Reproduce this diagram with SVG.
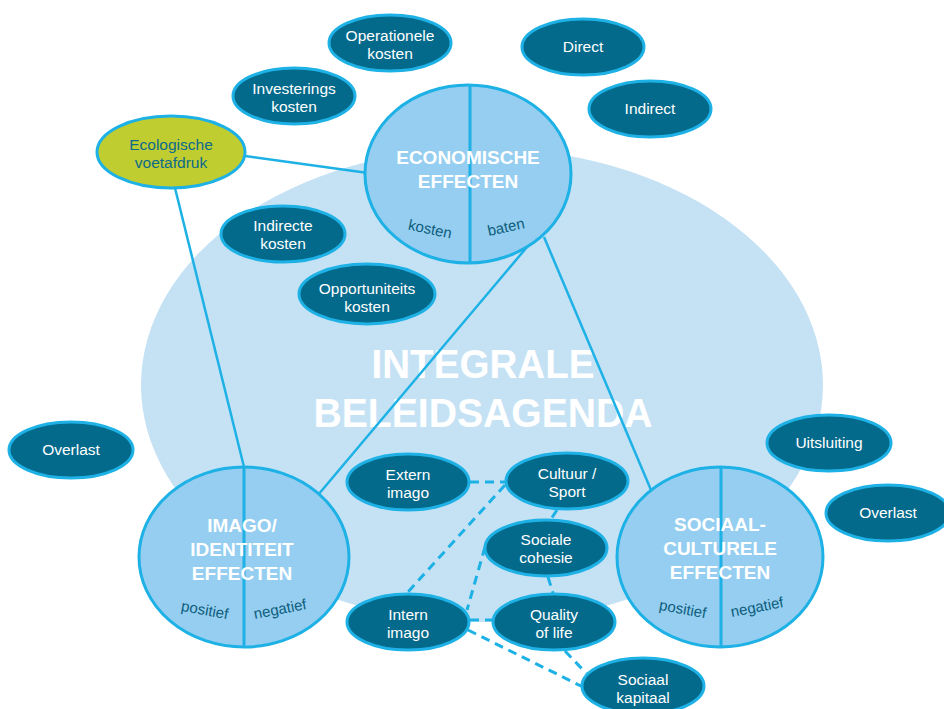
<svg xmlns="http://www.w3.org/2000/svg" width="944" height="709" viewBox="0 0 944 709">
  <style>
    .agenda { fill: #c5e2f5; }
    .circle { fill: #95cef0; stroke: #1db1e5; stroke-width: 3; }
    .divider { stroke: #1db1e5; stroke-width: 3; }
    .node { fill: #046a8b; stroke: #1db1e5; stroke-width: 3; }
    .eco { fill: #bfcd31; stroke: #1db1e5; stroke-width: 3; }
    .link { stroke: #1db1e5; stroke-width: 2.5; fill: none; }
    .dash { stroke: #1db1e5; stroke-width: 3; fill: none; stroke-dasharray: 9 6; }
    .lbl { font-family: "Liberation Sans", Arial, sans-serif; font-size: 15.5px; fill: #ffffff; text-anchor: middle; }
    .ecolbl { fill: #0c6a8a; }
    .head { font-family: "Liberation Sans", Arial, sans-serif; font-weight: bold; font-size: 19px; fill: #ffffff; text-anchor: middle; }
    .sub { font-family: "Liberation Sans", Arial, sans-serif; font-size: 15px; fill: #0d5d7d; text-anchor: middle; }
    .title { font-family: "Liberation Sans", Arial, sans-serif; font-weight: bold; font-size: 41px; fill: #ffffff; text-anchor: middle; }
  </style>

  <!-- background field -->
  <ellipse class="agenda" cx="482" cy="385" rx="341" ry="237"/>
  <text class="title" x="483" y="378" textLength="223" lengthAdjust="spacingAndGlyphs">INTEGRALE</text>
  <text class="title" x="483" y="427" textLength="339" lengthAdjust="spacingAndGlyphs">BELEIDSAGENDA</text>

  <!-- connectors -->
  <g id="connectors">
    <line class="link" x1="245" y1="156" x2="368" y2="173"/>
    <line class="link" x1="175" y1="188" x2="244" y2="467"/>
    <line class="link" x1="527" y1="247" x2="318" y2="495"/>
    <line class="link" x1="544" y1="237" x2="651" y2="490"/>
    <line class="dash" x1="470" y1="482" x2="505" y2="482"/>
    <line class="dash" x1="505" y1="485" x2="407" y2="593"/>
    <line class="dash" x1="557" y1="510" x2="551" y2="519"/>
    <line class="dash" x1="485" y1="547" x2="467" y2="610"/>
    <line class="dash" x1="548" y1="577" x2="553" y2="593"/>
    <line class="dash" x1="470" y1="620" x2="493" y2="620"/>
    <line class="dash" x1="468" y1="630" x2="583" y2="687"/>
    <line class="dash" x1="565" y1="651" x2="586" y2="673"/>
  </g>

  <!-- main effect circles -->
  <g id="economische-effecten">
    <ellipse class="circle" cx="468" cy="174" rx="103" ry="89"/>
    <line class="divider" x1="470" y1="85" x2="470" y2="263"/>
    <text class="head" x="468" y="164">ECONOMISCHE</text>
    <text class="head" x="468" y="188">EFFECTEN</text>
    <text class="sub" transform="translate(429 234) rotate(12)">kosten</text>
    <text class="sub" transform="translate(507 232) rotate(-12)">baten</text>
  </g>

  <g id="imago-identiteit-effecten">
    <ellipse class="circle" cx="244" cy="557" rx="105" ry="90"/>
    <line class="divider" x1="244" y1="467" x2="244" y2="647"/>
    <text class="head" x="242" y="532">IMAGO/</text>
    <text class="head" x="242" y="556">IDENTITEIT</text>
    <text class="head" x="242" y="580">EFFECTEN</text>
    <text class="sub" transform="translate(204 615) rotate(10)">positief</text>
    <text class="sub" transform="translate(281 614) rotate(-11)">negatief</text>
  </g>

  <g id="sociaal-culturele-effecten">
    <ellipse class="circle" cx="720" cy="557" rx="103" ry="90"/>
    <line class="divider" x1="721" y1="467" x2="721" y2="647"/>
    <text class="head" x="720" y="531">SOCIAAL-</text>
    <text class="head" x="720" y="555">CULTURELE</text>
    <text class="head" x="720" y="579">EFFECTEN</text>
    <text class="sub" transform="translate(682 614) rotate(10)">positief</text>
    <text class="sub" transform="translate(758 612) rotate(-11)">negatief</text>
  </g>

  <!-- effect nodes -->
  <g id="operationele-kosten">
    <ellipse class="node" cx="390" cy="43" rx="61" ry="28"/>
    <text class="lbl" x="390" y="41">Operationele</text>
    <text class="lbl" x="390" y="58.5">kosten</text>
  </g>
  <g id="investerings-kosten">
    <ellipse class="node" cx="294" cy="96" rx="61" ry="28"/>
    <text class="lbl" x="294" y="94">Investerings</text>
    <text class="lbl" x="294" y="111.5">kosten</text>
  </g>
  <g id="direct">
    <ellipse class="node" cx="583" cy="47" rx="61" ry="28"/>
    <text class="lbl" x="583" y="52">Direct</text>
  </g>
  <g id="indirect">
    <ellipse class="node" cx="650" cy="109" rx="61" ry="28"/>
    <text class="lbl" x="650" y="114">Indirect</text>
  </g>
  <g id="ecologische-voetafdruk">
    <ellipse class="eco" cx="171" cy="152" rx="74" ry="36"/>
    <text class="lbl ecolbl" x="171" y="150">Ecologische</text>
    <text class="lbl ecolbl" x="171" y="167.5">voetafdruk</text>
  </g>
  <g id="indirecte-kosten">
    <ellipse class="node" cx="283" cy="234" rx="62" ry="28"/>
    <text class="lbl" x="283" y="231">Indirecte</text>
    <text class="lbl" x="283" y="248.5">kosten</text>
  </g>
  <g id="opportuniteits-kosten">
    <ellipse class="node" cx="367" cy="294" rx="68" ry="30"/>
    <text class="lbl" x="367" y="294">Opportuniteits</text>
    <text class="lbl" x="367" y="311.5">kosten</text>
  </g>
  <g id="overlast-links">
    <ellipse class="node" cx="71" cy="450" rx="62" ry="28"/>
    <text class="lbl" x="71" y="455">Overlast</text>
  </g>
  <g id="uitsluiting">
    <ellipse class="node" cx="829" cy="443" rx="62" ry="28"/>
    <text class="lbl" x="829" y="448">Uitsluiting</text>
  </g>
  <g id="overlast-rechts">
    <ellipse class="node" cx="888" cy="513" rx="62" ry="28"/>
    <text class="lbl" x="888" y="518">Overlast</text>
  </g>
  <g id="extern-imago">
    <ellipse class="node" cx="408" cy="482" rx="61" ry="28"/>
    <text class="lbl" x="408" y="480">Extern</text>
    <text class="lbl" x="408" y="497.5">imago</text>
  </g>
  <g id="cultuur-sport">
    <ellipse class="node" cx="567" cy="481" rx="61" ry="28"/>
    <text class="lbl" x="567" y="479">Cultuur /</text>
    <text class="lbl" x="567" y="496.5">Sport</text>
  </g>
  <g id="sociale-cohesie">
    <ellipse class="node" cx="546" cy="548" rx="61" ry="28"/>
    <text class="lbl" x="546" y="545">Sociale</text>
    <text class="lbl" x="546" y="562.5">cohesie</text>
  </g>
  <g id="intern-imago">
    <ellipse class="node" cx="408" cy="622" rx="61" ry="28"/>
    <text class="lbl" x="408" y="620">Intern</text>
    <text class="lbl" x="408" y="637.5">imago</text>
  </g>
  <g id="quality-of-life">
    <ellipse class="node" cx="554" cy="622" rx="61" ry="28"/>
    <text class="lbl" x="554" y="620">Quality</text>
    <text class="lbl" x="554" y="637.5">of life</text>
  </g>
  <g id="sociaal-kapitaal">
    <ellipse class="node" cx="643" cy="686" rx="61" ry="28"/>
    <text class="lbl" x="643" y="685">Sociaal</text>
    <text class="lbl" x="643" y="702.5">kapitaal</text>
  </g>
</svg>
